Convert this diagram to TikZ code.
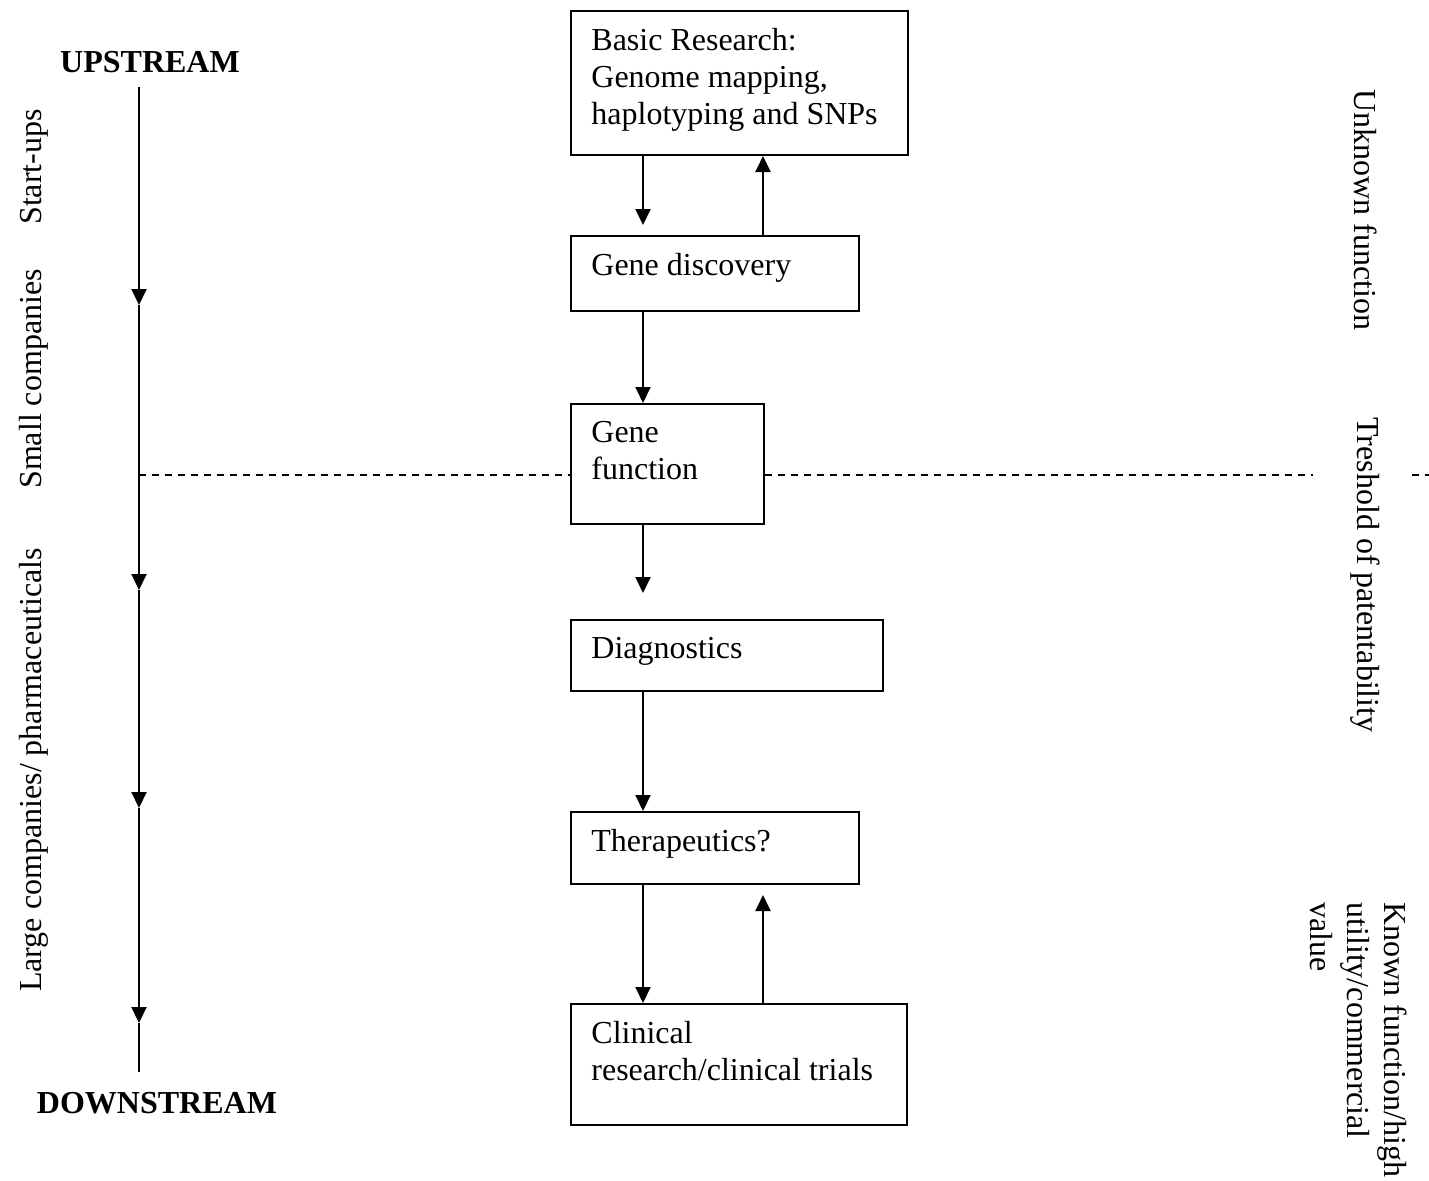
\documentclass[tikz,border=0pt]{standalone}
\usepackage{fontspec}
\setmainfont{Liberation Serif}
\usetikzlibrary{arrows.meta,calc}
\tikzset{
  box/.style={draw, line width=1pt, anchor=north west, inner sep=0pt},
  txt/.style={anchor=north west, align=left, inner sep=0pt, font=\fontsize{16}{18.5}\selectfont},
  lbl/.style={inner sep=0pt, font=\fontsize{16}{18.5}\selectfont},
  arr/.style={line width=1pt, -{Triangle[length=8pt,width=7.5pt]}},
  plain/.style={line width=1pt},
  dline/.style={line width=0.8pt, dash pattern=on 3.5pt off 3pt}
}
\begin{document}
\begin{tikzpicture}[x=0.5pt,y=-0.5pt]
\useasboundingbox[fill=white] (0,0) rectangle (1429,1180);

% boxes
\node[box, minimum width=168.5pt, minimum height=72pt] (b1) at (570,10) {};
\node[box, minimum width=144pt, minimum height=37.5pt] (b2) at (570,235) {};
\node[box, minimum width=96.5pt, minimum height=60pt] (b3) at (570,403) {};
\node[box, minimum width=156pt, minimum height=35.5pt] (b4) at (570,619) {};
\node[box, minimum width=144pt, minimum height=36pt] (b5) at (570,811) {};
\node[box, minimum width=168pt, minimum height=60.5pt] (b6) at (570,1003) {};

% box texts
\node[txt] (t1) at (591,28) {Basic Research:\\Genome mapping,\\haplotyping and SNPs};
\node[txt] (t2) at (591,253) {Gene discovery};
\node[txt] (t3) at (591,421) {Gene\\function};
\node[txt] (t4) at (591,637) {Diagnostics};
\node[txt] (t5) at (591,829) {Therapeutics?};
\node[txt] (t6) at (591,1021) {Clinical\\research/clinical trials};

% connectors between boxes
\draw[arr, shorten >=5pt] (643,0 |- b1.south) -- (643,0 |- b2.north);
\draw[arr] (763,0 |- b2.north) -- (763,0 |- b1.south);
\draw[arr] (643,0 |- b2.south) -- (643,0 |- b3.north);
\draw[arr, shorten >=13pt] (643,0 |- b3.south) -- (643,0 |- b4.north);
\draw[arr] (643,0 |- b4.south) -- (643,0 |- b5.north);
\draw[arr] (643,0 |- b5.south) -- (643,0 |- b6.north);
\draw[arr, shorten >=5pt] (763,0 |- b6.north) -- (763,0 |- b5.south);

% left axis
\node[lbl, font=\fontsize{16}{18.5}\selectfont\bfseries] (up) at (150,62) {UPSTREAM};
\node[lbl, font=\fontsize{16}{18.5}\selectfont\bfseries] (down) at (157,1103) {DOWNSTREAM};
\coordinate (ax0) at (139,87);
\coordinate (ax1) at (139,305);
\coordinate (ax2) at (139,590);
\coordinate (ax3) at (139,808);
\coordinate (ax4) at (139,1023);
\coordinate (ax5) at (139,1072);
\draw[arr] (ax0) -- (ax1);
\draw[arr] (ax1) -- (ax2);
\draw[arr] (ax2) -- (ax3);
\draw[arr] (ax3) -- (ax4);
\draw[plain] (ax4) -- (ax5);

% left rotated labels
\node[lbl, rotate=90] (l1) at (34,167) {Start-ups};
\node[lbl, rotate=90] (l2) at (34,379) {Small companies};
\node[lbl, rotate=90] (l3) at (34,770) {Large companies/ pharmaceuticals};

% threshold dashed line
\coordinate (dl) at (139,475);
\coordinate (dr1) at (1313,475);
\coordinate (dr2) at (1412,475);
\coordinate (dr3) at (1429,475);
\draw[dline] (dl) -- (b3.west |- dl);
\draw[dline] (b3.east |- dl) -- (dr1);
\draw[dline] (dr2) -- (dr3);

% right rotated labels
\node[lbl, rotate=-90] (r1) at (1366,210) {Unknown function};
\node[lbl, rotate=-90] (r2) at (1365,575) {Treshold of patentability};
\node[txt, rotate=-90] (r3) at (1407,902) {Known function/high\\utility/commercial\\value};
\end{tikzpicture}
\end{document}
